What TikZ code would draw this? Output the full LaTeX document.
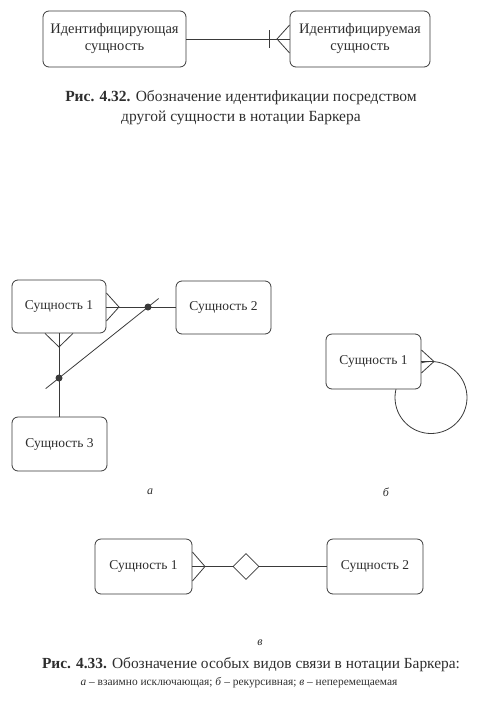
\documentclass[tikz,border=0pt]{standalone}
\usepackage{fontspec}
\setmainfont{Liberation Serif}
\usetikzlibrary{calc,shapes.geometric}
\definecolor{ink}{HTML}{3A3A3A}
\definecolor{txt}{HTML}{2E2E2E}
\begin{document}
\begin{tikzpicture}[x=1pt,y=-1pt,
  ent/.style={draw=ink,line width=0.8pt,rounded corners=6pt,fill=white,text=txt,
    font=\fontsize{13.5}{15.5}\selectfont,align=center,inner sep=0pt},
  ln/.style={draw=ink,line width=0.8pt},
  dotm/.style={circle,fill=ink,inner sep=0pt,minimum size=7pt},
  captxt/.style={text=txt,align=center,inner sep=0pt},
  lbl/.style={text=txt,font=\fontsize{12}{14}\selectfont\itshape,inner sep=0pt}]
\useasboundingbox (0,0) rectangle (483,710);

% ---------- Fig 4.32 ----------
\node[ent,font=\fontsize{14.5}{17}\selectfont,minimum width=143pt,minimum height=56pt] (ia) at (114.5,39) {Идентифицирующая\\сущность};
\node[ent,font=\fontsize{14.5}{17}\selectfont,minimum width=140pt,minimum height=56pt] (ib) at (360,39) {Идентифицируемая\\сущность};
\draw[ln] (ia.east) -- (ib.west);
\coordinate (tk1) at (269,30); \coordinate (tk2) at (269,48);
\draw[ln] (tk1) -- (tk2);
\coordinate (ap0) at (277,39);
\draw[ln] (ib.west |- 0,25) -- (ap0) -- (ib.west |- 0,53);
\node[captxt,font=\fontsize{15.5}{18}\selectfont] (c1a) at (241,98) {\textbf{Рис. 4.32.} Обозначение идентификации посредством};
\node[captxt,font=\fontsize{15.5}{18}\selectfont] (c1b) at (241,118) {другой сущности в нотации Баркера};

% ---------- Fig a ----------
\node[ent,minimum width=94pt,minimum height=53pt] (a1) at (59,306.5) {Сущность 1};
\node[ent,minimum width=95pt,minimum height=53pt] (a2) at (223.5,307.5) {Сущность 2};
\node[ent,minimum width=95pt,minimum height=54pt] (a3) at (59.5,444) {Сущность 3};
\coordinate (d1) at (148,307);
\coordinate (d2) at (59,378);
\draw[ln] (a1.east |- d1) -- (a2.west |- d1);
\draw[ln] (d2 |- a1.south) -- (d2 |- a3.north);
\coordinate (apA) at (119,307);
\draw[ln] (a1.east |- 0,293) -- (apA) -- (a1.east |- 0,321);
\coordinate (apB) at (59,347);
\draw[ln] (45,0 |- a1.south) -- (apB) -- (73,0 |- a1.south);
\coordinate (s1) at ($(d2)!-0.15!(d1)$);
\coordinate (s2) at ($(d1)!-0.12!(d2)$);
\draw[ln] (s1) -- (s2);
\node[dotm] (dot1) at (d1) {};
\node[dotm] (dot2) at (d2) {};
\node[lbl] (la) at (150,492) {а};

% ---------- Fig б ----------
\coordinate (cc) at (431,397.5);
\draw[ln] (cc) circle (36);
\node[ent,minimum width=95pt,minimum height=55pt] (b1) at (373.5,361.5) {Сущность 1};
\coordinate (apC) at (434,361.5);
\draw[ln] (b1.east |- 0,350) -- (apC) -- (b1.east |- 0,373);
\draw[ln] (b1.east) -- (apC);
\node[lbl] (lb) at (386,492) {б};

% ---------- Fig в ----------
\node[ent,minimum width=97pt,minimum height=55pt] (v1) at (143.5,566.5) {Сущность 1};
\node[ent,minimum width=96pt,minimum height=55pt] (v2) at (375,566.5) {Сущность 2};
\node[draw=ink,line width=0.8pt,diamond,minimum width=26pt,minimum height=26pt,inner sep=0pt] (dm) at (246,566.5) {};
\draw[ln] (v1.east) -- (dm.west);
\draw[ln] (dm.east) -- (v2.west);
\coordinate (apD) at (205,566.5);
\draw[ln] (v1.east |- 0,552) -- (apD) -- (v1.east |- 0,581);
\node[lbl] (lv) at (260,643) {в};

\node[captxt,font=\fontsize{15.4}{18}\selectfont] (c2a) at (251,665) {\textbf{Рис. 4.33.} Обозначение особых видов связи в нотации Баркера:};
\node[captxt,font=\fontsize{11.4}{13}\selectfont] (c2b) at (239,683) {\textit{а} -- взаимно исключающая; \textit{б} -- рекурсивная; \textit{в} -- неперемещаемая};
\end{tikzpicture}
\end{document}
